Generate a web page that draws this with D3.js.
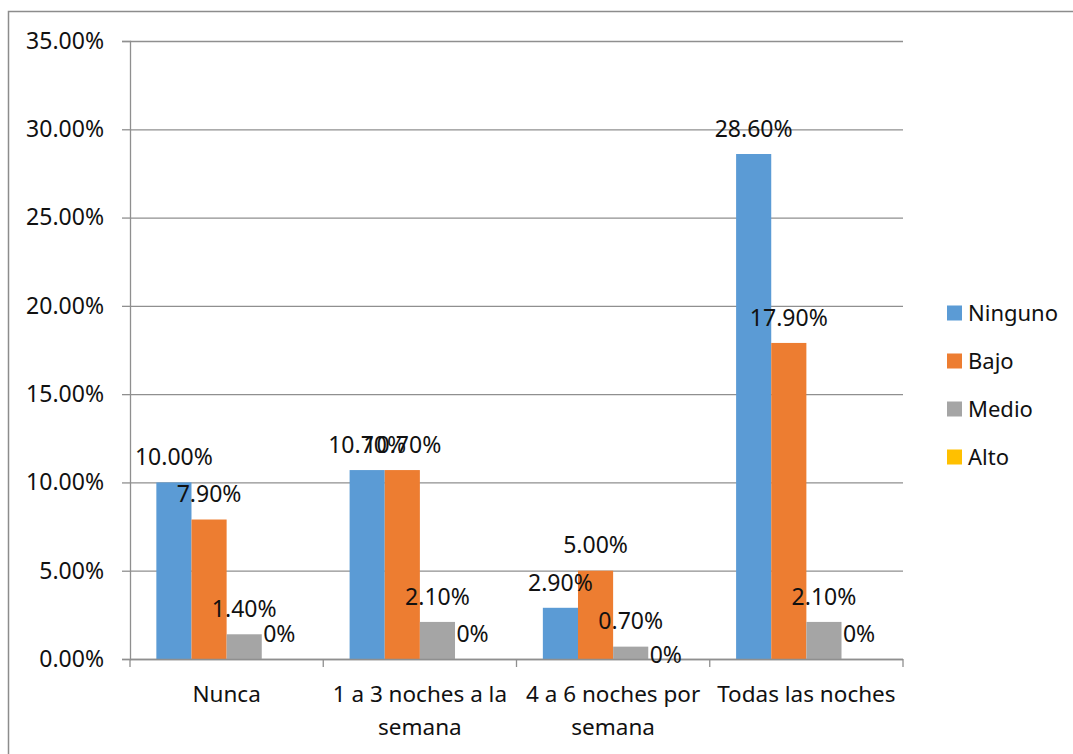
<!DOCTYPE html>
<html>
<head>
<meta charset="utf-8">
<script src="https://cdn.jsdelivr.net/npm/d3@7"></script>
<style>
  html, body { margin: 0; padding: 0; background: #fff; }
  svg { display: block; font-family: "Noto Sans", "Open Sans", sans-serif; }
</style>
</head>
<body>
<svg id="chart" width="1073" height="754"></svg>
<script>
// Frecuencia por categoría y nivel (porcentajes)
const categories = [["Nunca"], ["1 a 3 noches a la", "semana"], ["4 a 6 noches por", "semana"], ["Todas las noches"]];
const seriesNames = ["Ninguno", "Bajo", "Medio", "Alto"];
const ninguno = [10.0, 10.7, 2.9, 28.6];
const bajo    = [7.9, 10.7, 5.0, 17.9];
const medio   = [1.4, 2.1, 0.7, 2.1];
const alto    = [0, 0, 0, 0];
const labelText = [
  ["10.00%", "10.70%", "2.90%", "28.60%"],
  ["7.90%", "10.70%", "5.00%", "17.90%"],
  ["1.40%", "2.10%", "0.70%", "2.10%"],
  ["0%", "0%", "0%", "0%"]
];
const yTicks = [0, 5, 10, 15, 20, 25, 30, 35];
const colors = ["#5B9BD5", "#ED7D31", "#A5A5A5", "#FFC000"];

const values = [ninguno, bajo, medio, alto];

const svg = d3.select("#chart");

// Outer chart frame
svg.append("rect")
  .attr("x", 8.5).attr("y", 11.5)
  .attr("width", 1090).attr("height", 770)
  .attr("fill", "none").attr("stroke", "#8c8c8c").attr("stroke-width", 1.5);

const plot = { left: 130, right: 903, top: 41, bottom: 659 };

const x0 = d3.scaleBand()
  .domain(d3.range(categories.length))
  .range([plot.left, plot.right])
  .paddingInner(0).paddingOuter(0);

// gap width 150% → inner group occupies 4/5.5 of each band
const groupPad = 1.5 / 5.5;
const x1 = d3.scaleBand()
  .domain(d3.range(seriesNames.length))
  .range([0, x0.bandwidth()])
  .paddingInner(0)
  .paddingOuter(groupPad / (1 - groupPad) * seriesNames.length / 2);

const y = d3.scaleLinear().domain([0, 35]).range([plot.bottom, plot.top]);

// Gridlines with small left ticks
const grid = svg.append("g")
  .attr("transform", `translate(${plot.left},0)`)
  .call(d3.axisLeft(y).tickValues(yTicks).tickSize(-(plot.right - plot.left)).tickFormat(""));
grid.select(".domain").remove();
grid.selectAll(".tick line").attr("stroke", "#8f8f8f").attr("stroke-width", 1.3);

const yAxis = svg.append("g")
  .attr("transform", `translate(${plot.left},0)`)
  .call(d3.axisLeft(y).tickValues(yTicks).tickSize(8).tickPadding(18)
        .tickFormat(d => d.toFixed(2) + "%"));
yAxis.select(".domain").attr("stroke", "#8f8f8f").attr("stroke-width", 1.3);
yAxis.selectAll(".tick line").attr("stroke", "#8f8f8f").attr("stroke-width", 1.3);
yAxis.selectAll(".tick text").attr("font-size", 23).attr("fill", "#111")
  .attr("font-family", "'Noto Sans', sans-serif");

// Bars
const groups = svg.append("g").selectAll("g")
  .data(categories.map((c, i) => i))
  .join("g")
  .attr("transform", i => `translate(${x0(i)},0)`);

groups.selectAll("rect")
  .data(i => seriesNames.map((s, j) => ({ i, j, v: values[j][i] })))
  .join("rect")
  .attr("x", d => x1(d.j))
  .attr("width", x1.bandwidth())
  .attr("y", d => y(d.v))
  .attr("height", d => y(0) - y(d.v))
  .attr("fill", d => colors[d.j]);

// X axis baseline with category dividers
const xAxis = svg.append("g");
xAxis.append("line")
  .attr("x1", plot.left).attr("x2", plot.right)
  .attr("y1", plot.bottom + 0.5).attr("y2", plot.bottom + 0.5)
  .attr("stroke", "#8f8f8f").attr("stroke-width", 1.3);
xAxis.selectAll("line.div")
  .data(d3.range(categories.length + 1))
  .join("line").attr("class", "div")
  .attr("x1", i => i < categories.length ? x0(i) : plot.right)
  .attr("x2", i => i < categories.length ? x0(i) : plot.right)
  .attr("y1", plot.bottom).attr("y2", plot.bottom + 8)
  .attr("stroke", "#8f8f8f").attr("stroke-width", 1.3);

// Category labels
svg.append("g").selectAll("text")
  .data(categories)
  .join("text")
  .attr("x", (c, i) => x0(i) + x0.bandwidth() / 2)
  .attr("y", plot.bottom + 43)
  .attr("text-anchor", "middle")
  .attr("font-size", 22.5)
  .attr("fill", "#111")
  .selectAll("tspan")
  .data(c => c)
  .join("tspan")
  .attr("x", function() { return this.parentNode.getAttribute("x"); })
  .attr("dy", (t, k) => k === 0 ? 0 : 33)
  .text(t => t);

// Data labels above each bar; the zero Alto label of the third group sits lower
const labelLift = (i, j) => (i === 2 && j === 3) ? 4 : 25.5;
const labels = [];
values.forEach((arr, j) => arr.forEach((v, i) => labels.push({ i, j, v, t: labelText[j][i] })));
svg.append("g").selectAll("text")
  .data(labels)
  .join("text")
  .attr("x", d => x0(d.i) + x1(d.j) + x1.bandwidth() / 2)
  .attr("y", d => y(d.v) - labelLift(d.i, d.j))
  .attr("dy", "0.36em")
  .attr("text-anchor", "middle")
  .attr("font-size", 23)
  .attr("fill", "#111")
  .text(d => d.t);

// Legend
const legend = svg.append("g").selectAll("g")
  .data(seriesNames)
  .join("g")
  .attr("transform", (s, k) => `translate(947,${313 + k * 48})`);
legend.append("rect")
  .attr("x", 0).attr("y", -7.5)
  .attr("width", 15).attr("height", 15)
  .attr("fill", (s, k) => colors[k]);
legend.append("text")
  .attr("x", 21).attr("y", 0).attr("dy", "0.36em")
  .attr("font-size", 22)
  .attr("fill", "#111")
  .text(s => s);
</script>
</body>
</html>
